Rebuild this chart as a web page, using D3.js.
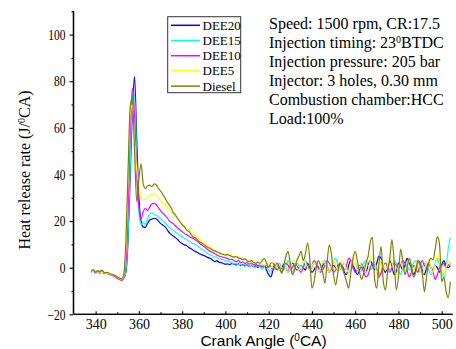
<!DOCTYPE html>
<html><head><meta charset="utf-8">
<script src="https://cdn.jsdelivr.net/npm/d3@7"></script>
<style>body{margin:0;background:#fff}svg{display:block}</style>
</head><body>
<svg id="c" width="456" height="349"></svg>
<script>
// ---- data ----
const angleStart = 338, angleEnd = 504; // crank angle grid, 1 degree step
const seriesNames = ["DEE20","DEE15","DEE10","DEE5","Diesel"];
const seriesColors = ["#0000ff","#00ffff","#ff00ff","#ffff00","#808000"];
const xTicks = [340,360,380,400,420,440,460,480,500];
const yTicks = [-20,0,20,40,60,80,100];
const notes = ["Speed: 1500 rpm, CR:17.5","Injection timing: 23|0|BTDC","Injection pressure: 205 bar","Injector: 3 holes, 0.30 mm","Combustion chamber:HCC","Load:100%"];

// 338..352
const dee20 = [-1.5,-1,-2,-1.5,-2,-1.2,-2.5,-2,-2.5,-3,-3.2,-3.6,-4.2,-4.8,-5.2,
 -4.5,-2,12,40,68,82,55,30,20,17.5,17.3,19,20.5,20.8,21.2,21,20,19,18.3,17.6,16.5,15,14.2,13.5,12.8,12,11,10.4,9.8,9.5,8.7,8.2,7.6,7,6.6,6,5.6,5.2,4.8,4.3,4,3.3,2.6,3,2.4,2.2,1.8,1.5,
 1.6,1.3,1.8,1.5,1.2,1.6,1,1.3,0.8,1.2,0.6,1,0.5,0.8,0.2,0.6,0.3,1,-1,-3,-4,-1,2,1,-1,0,1.5,0,-2,1,2,0.5,-1,0,1,0,-1,2,0,-2,-1,1,0,-1,1,2,0,-2,0,1,0,-1,2,1,-2,-3,1,3,1,-1,-3,-1,2,0,-2,1,3,1,-1,2,5,4,0,-2,0,3,1,-3,-2,2,1,-1,1,4,2,0,-3,-1,3,2,-1,-3,0,2,0,-1,1,0,-2,1,3,1,0,1];
const dee15 = [-1.8,-1.3,-1.8,-1.8,-2.2,-1.5,-2.3,-2.2,-2.6,-2.8,-3.3,-3.8,-4.3,-4.9,-5.3,
 -4.6,-1,15,45,72,74,45,24,18.5,19.5,18.5,21,23,23.5,23,22.5,21.8,21,20.4,19.5,18.4,17.4,16.6,16,15.2,14.5,13.8,13.3,12.6,12.2,11.5,11,10.4,10,9.4,8.6,8,7.4,6.6,6,5.5,5,4.6,4.5,3.8,3.6,3.4,3,
 2.8,2.5,2.2,1.6,1.8,1.2,1.5,1,1.3,0.8,0.5,1.2,0.4,0,1,0.5,-0.5,0.5,1,-1,-2,0,-1,1,2,0,-1,1,3,0.5,-2,0,2,1,-1,1,3,1,-1,0,2,1,-2,0,2,3,1,-1,0,3,4,1,-1,1,2,0,-2,-1,1,2,0,-2,-1,2,3,1,-1,0,2,0,-2,-3,0,2,1,-1,0,3,2,-1,-3,0,2,1,-1,0,2,3,0,-2,0,2,1,-1,-3,-1,2,4,1,-2,-4,0,8,13];
const dee10 = [-2,-1.4,-2.2,-1.6,-2.3,-1.8,-2.4,-2.4,-2.7,-3,-3.4,-3.9,-4.5,-5,-5.4,
 -4,2,25,60,77,65,40,26,21,24,25.5,24.5,26,27.3,27.6,27,25.8,24.5,23.4,22.5,21.5,20.2,19.4,18.8,17.8,17,16.2,15.5,14.8,14.2,13.6,13,12.6,12,11.4,10.5,9.8,9.2,8.4,7.6,7,6.6,6,5.5,5,4.8,4.5,4.2,
 4,3.4,3.6,3,2.6,3,2.2,2.5,1.8,2.2,1.5,2,1.2,1.6,0.8,1.4,0.5,1,0,1,0.5,-1,1,2,0,-2,0,2,1,-1,0,2,1,-1,-2,0,2,1,-1,1,3,2,0,-2,-1,1,3,2,0,-2,-1,1,2,0,-1,1,4,3,0,-2,-1,1,0,-2,-4,-3,0,2,1,-1,-4,-2,1,2,0,-2,0,2,1,0,1,3,2,-1,-4,-2,1,0,-2,1,3,1,0,2,0,-2,-5,-3,0,1,2,0,1,2];
const dee5 = [-1.2,-1.6,-1.5,-1.9,-1.8,-2,-2.1,-2.6,-2.4,-2.9,-3.1,-3.5,-4,-4.6,-4.9,
 -3.5,8,38,66,70,55,42,36,30,29,29.5,30.5,31,31.5,31.8,31.2,30,29,28,27,26,25,24,23,22,21,19.8,18.8,17.8,17,16.2,15.4,14.6,13.8,13,12.2,11.5,10.8,10,9.4,8.8,8,7.5,7,6.8,6.2,6,5.8,
 5.4,5.8,5,4.6,5,4.2,4,3.5,3.8,3,3.4,2.5,2.8,2,2.4,1.5,1.8,1,2,1,0,1,2,0,-1,1,2,0,-2,0,3,2,0,-1,1,3,2,0,-1,1,2,0,-2,0,3,2,0,-2,1,3,1,-1,0,3,2,-1,-2,1,4,2,-1,0,2,1,-2,-1,3,5,2,-2,-1,3,2,-1,1,4,2,-1,-3,0,2,0,-2,1,3,1,-1,1,3,0,-3,-1,2,3,0,-2,1,5,3,-1,-3,0,3,1];
const diesel = [-1,-1.2,-1.8,-1.3,-1.6,-1,-2.2,-2.1,-2.3,-2.7,-3,-3.4,-3.9,-4.4,-4.8,
 -3,12,42,69,73,50,28.3,38,44.5,36,34,35,35.4,34.8,36,35.5,34,33,31.5,30,28.3,27,25.5,23.5,22.5,21,19.7,18.5,17.5,16.2,15.6,14.5,13.3,12.8,12,11.1,10.6,10,9.2,8.6,8.3,7.6,7.2,6.8,6.4,6,5.7,5.4,
 5.6,5.2,4.8,4.5,4.8,4.2,4,3.4,3.8,3,2.6,3,2.2,1.9,2.4,1.9,3,4,2,0,2,2,0,-1,0.4,-2.4,1,5,6.9,2,-3,-1,3,5,7,3,6,10.7,4,-8.8,-6,0,3,1,-2,-6.6,2,9.7,6,-3,-7.4,-2,2,0,-3,-6,-8.8,-2,4,7,3,-2,-5,-2,2,5,11,13,-5,-8.8,1.9,9,-6,-9.5,-2,4,12,3,-9.5,-4,8,3,-3,0,4,1,-4,-2,3,1,-2,-10.3,-4,2,4,3.3,8,13.3,10,-6,-4,-10,-13,-6];
const seriesValues = [dee20, dee15, dee10, dee5, diesel];

// ---- chart ----
const svg = d3.select("#c");
const x = d3.scaleLinear().domain([330,505]).range([74,452.5]);
const y = d3.scaleLinear().domain([-20,110]).range([314.3,11.3]);
const serif = "'Liberation Serif','Times New Roman',serif";
const sans = "'Liberation Sans',Arial,sans-serif";

const line = d3.line().x(d=>x(d[0])).y(d=>y(d[1])).curve(d3.curveMonotoneX);
seriesValues.forEach((vals,i)=>{
  const pts = vals.map((v,j)=>[angleStart+j, v]);
  svg.append("path").datum(pts).attr("d",line)
    .attr("fill","none").attr("stroke",seriesColors[i]).attr("stroke-width",1.2)
    .attr("stroke-linejoin","round");
});

// y axis
const yAx = svg.append("g").attr("transform","translate(73.5,0)");
yAx.call(d3.axisLeft(y).tickValues(yTicks).tickSize(4).tickFormat(d3.format("d")));
yAx.append("g").call(d3.axisLeft(y).tickValues(d3.range(-10,111,20)).tickSize(2).tickFormat(""));
yAx.selectAll(".domain").attr("d","M0,"+y(-20)+"V"+y(110)).attr("stroke","#000").attr("stroke-width",1.3);
yAx.selectAll("line").attr("stroke","#000").attr("stroke-width",1.1);
yAx.selectAll(".tick text").attr("x",-8).attr("dy","0.34em")
  .style("font-family",serif).style("font-size","14px").style("fill","#000")
  .style("transform-box","fill-box").style("transform-origin","right center").style("transform","scaleX(0.82)");

// x axis
const xAx = svg.append("g").attr("transform","translate(0,314.3)");
xAx.call(d3.axisBottom(x).tickValues(xTicks).tickSizeInner(-3).tickSizeOuter(0).tickPadding(7).tickFormat(d3.format("d")));
xAx.append("g").call(d3.axisBottom(x).tickValues(d3.range(350,505,20)).tickSize(-2).tickFormat(""));
xAx.selectAll(".domain").attr("d","M"+x(330)+",0H"+x(505)).attr("stroke","#000").attr("stroke-width",1.3);
xAx.selectAll("line").attr("stroke","#000").attr("stroke-width",1.1);
xAx.selectAll(".tick text").attr("y",5).attr("dy","0.71em")
  .style("font-family",serif).style("font-size","14px").style("fill","#000");

// axis titles
const yl = svg.append("text").attr("transform","translate(30,170) rotate(-90)")
  .attr("text-anchor","middle").style("font-family",serif).style("font-size","16px").attr("fill","#000");
yl.append("tspan").text("Heat release rate (J/");
yl.append("tspan").style("font-size","10px").attr("baseline-shift","super").text("0");
yl.append("tspan").text("CA)");

const xl = svg.append("text").attr("x",263.5).attr("y",346)
  .attr("text-anchor","middle").style("font-family",sans).style("font-size","15.5px").attr("fill","#000");
xl.append("tspan").text("Crank Angle (");
xl.append("tspan").style("font-size","10px").attr("baseline-shift","super").text("0");
xl.append("tspan").text("CA)");

// legend
const lg = svg.append("g");
lg.append("rect").attr("x",167.7).attr("y",16.7).attr("width",73).attr("height",76)
  .attr("fill","#fff").attr("stroke","#333").attr("stroke-width",1);
seriesNames.forEach((n,i)=>{
  const yy = 25.3 + i*15.2;
  lg.append("line").attr("x1",171).attr("x2",200).attr("y1",yy).attr("y2",yy)
    .attr("stroke",seriesColors[i]).attr("stroke-width",1.5);
  lg.append("text").attr("x",202.5).attr("y",yy+4.5).style("font-family",serif).style("font-size","13px").attr("fill","#000").text(n);
});

// annotation
notes.forEach((s,i)=>{
  const t = svg.append("text").attr("x",269).attr("y",29+i*19)
    .style("font-family",serif).style("font-size","16px").attr("fill","#000");
  const parts = s.split("|");
  parts.forEach((p,k)=>{
    const ts = t.append("tspan").text(p);
    if (k===1) ts.style("font-size","10px").attr("baseline-shift","super");
  });
});
</script>
</body></html>
